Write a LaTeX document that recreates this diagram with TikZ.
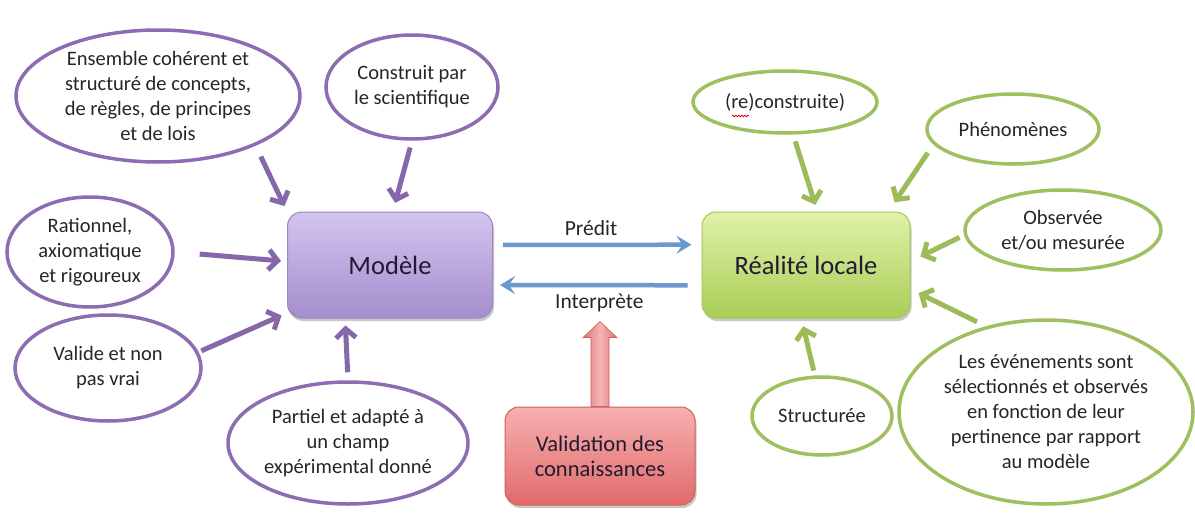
\documentclass[tikz,border=0pt]{standalone}
\usepackage{fontspec}
\setmainfont{Carlito}
\usetikzlibrary{shapes.geometric,arrows.meta,shadows,calc,decorations.pathmorphing}

\definecolor{pline}{HTML}{8C6DB2}
\definecolor{parrow}{HTML}{8567AA}
\definecolor{gline}{HTML}{9EC05E}
\definecolor{garrow}{HTML}{9CBC5A}
\definecolor{barrow}{HTML}{6A98CF}
\definecolor{ptop}{HTML}{D4C4EF}
\definecolor{pbot}{HTML}{A48DCD}
\definecolor{pedge}{HTML}{9C86C6}
\definecolor{gtop}{HTML}{E0F2AA}
\definecolor{gbot}{HTML}{A9CD55}
\definecolor{gedge}{HTML}{A3C75A}
\definecolor{rtop}{HTML}{F6B0B0}
\definecolor{rbot}{HTML}{E26A6A}
\definecolor{redge}{HTML}{D06060}
\definecolor{ralight}{HTML}{F6B4B4}
\definecolor{radark}{HTML}{DD7575}
\definecolor{txt}{HTML}{262626}
\definecolor{boxtxt}{HTML}{221A33}

\begin{document}
\begin{tikzpicture}[x=1pt,y=-1pt,
  ell/.style={ellipse, draw, line width=3.5pt, inner sep=0pt, align=center,
    text=txt, font=\fontsize{20.5}{25}\selectfont, fill=white},
  pell/.style={ell, draw=pline},
  gell/.style={ell, draw=gline},
  bigbox/.style={rectangle, rounded corners=14pt, line width=1pt, align=center,
    minimum width=205pt, minimum height=106pt, text=boxtxt,
    drop shadow={shadow xshift=1.5pt, shadow yshift=-3pt, opacity=0.3, fill=black!70}},
  parr/.style={draw=parrow, line width=5pt, -{Straight Barb[length=9pt,width=20pt]}},
  garr/.style={draw=garrow, line width=5pt, -{Straight Barb[length=9pt,width=20pt]}},
  barr/.style={draw=barrow, line width=4.5pt, -{Stealth[length=15pt,width=18pt,inset=6pt]}},
  lbl/.style={text=txt, font=\fontsize{21.5}{26}\selectfont}
]
\useasboundingbox[fill=white] (0,0) rectangle (1195,514);

% boxes
\node[bigbox, top color=ptop, bottom color=pbot, draw=pedge,
      font=\fontsize{26.5}{32}\selectfont] (modele) at (390,265) {Modèle};
\node[bigbox, minimum width=208pt, top color=gtop, bottom color=gbot, draw=gedge,
      font=\fontsize{26.5}{32}\selectfont] (real) at (806,265) {Réalité locale};
\node[bigbox, minimum width=190pt, minimum height=98pt, top color=rtop, bottom color=rbot,
      draw=redge, font=\fontsize{22.5}{25}\selectfont] (valid) at (600,456)
      {Validation des\\connaissances};

% purple ellipses
\node[pell, minimum width=284pt, minimum height=132pt] (e1) at (158,96)
  {Ensemble cohérent et\\structuré de concepts,\\de règles, de principes\\et de lois};
\node[pell, minimum width=172pt, minimum height=104pt] (e2) at (412,87)
  {Construit par\\le scientifique};
\node[pell, minimum width=166pt, minimum height=110pt] (e3) at (90,252)
  {Rationnel,\\axiomatique\\et rigoureux};
\node[pell, minimum width=186pt, minimum height=106pt] (e4) at (108,368)
  {Valide et non\\pas vrai};
\node[pell, minimum width=240pt, minimum height=122pt] (e5) at (348,443)
  {Partiel et adapté à\\un champ\\expérimental donné};

% green ellipses
\node[gell, minimum width=184pt, minimum height=62pt] (e6) at (785,102)
  {(re)construite)};
\node[gell, minimum width=172pt, minimum height=70pt] (e7) at (1013,129)
  {Phénomènes};
\node[gell, minimum width=196pt, minimum height=80pt] (e8) at (1063,230)
  {Observée\\et/ou mesurée};
\node[gell, minimum width=140pt, minimum height=78pt] (e10) at (822,416)
  {Structurée};
\node[gell, minimum width=294pt, minimum height=184pt] (e9) at (1046,412)
  {Les événements sont\\sélectionnés et observés\\en fonction de leur\\pertinence par rapport\\au modèle};

% spell-check squiggle under "re"
\draw[red!80!black, line width=0.7pt, decorate,
      decoration={snake, amplitude=0.9pt, segment length=3pt}]
  ($(e6.center)+(-53,14)$) -- ++(17,0);

% purple arrows
\draw[parr, shorten <=12pt, shorten >=6pt] (e1.-27) -- (modele.north west);
\draw[parr, shorten <=7pt, shorten >=9pt] (e2.south) -- (modele.87);
\draw[parr, shorten <=25pt, shorten >=6pt] (e3.east) -- (modele.178);
\draw[parr, shorten <=3pt, shorten >=6pt] (e4.10) -- (modele.-155);
\draw[parr, shorten <=8pt, shorten >=7pt] (e5.north) -- (modele.-130);

% green arrows
\draw[garr, shorten <=7pt, shorten >=7pt] (e6.-76) -- (real.78);
\draw[garr, shorten <=10pt, shorten >=11pt] (e7.-169) -- (real.33);
\draw[garr, shorten <=5pt, shorten >=11pt] (e8.183) -- (real.2);
\draw[garr, shorten <=10pt, shorten >=9pt] (e9.125) -- (real.-13);
\draw[garr, shorten <=5pt, shorten >=8pt] (e10.100) -- (real.-95);

% blue arrows
\draw[barr, shorten <=10pt, shorten >=10pt] (modele.11) -- node[lbl, above=4pt, pos=0.47] (lp) {Prédit} (real.169);
\draw[barr, shorten <=14pt, shorten >=7pt] (real.191) -- node[lbl, below=3pt, pos=0.49] (li) {Interprète} (modele.-11);

% red block arrow
\shade[left color=radark, right color=radark, middle color=ralight, draw=redge, line width=0.6pt]
  ($(valid.north)+(-9,0)$) -- ++(0,-69) -- ++(-8,0) -- ($(valid.north)+(0,-85)$)
  -- ($(valid.north)+(17,-69)$) -- ++(-8,0) -- ($(valid.north)+(9,0)$) -- cycle;
\end{tikzpicture}
\end{document}
